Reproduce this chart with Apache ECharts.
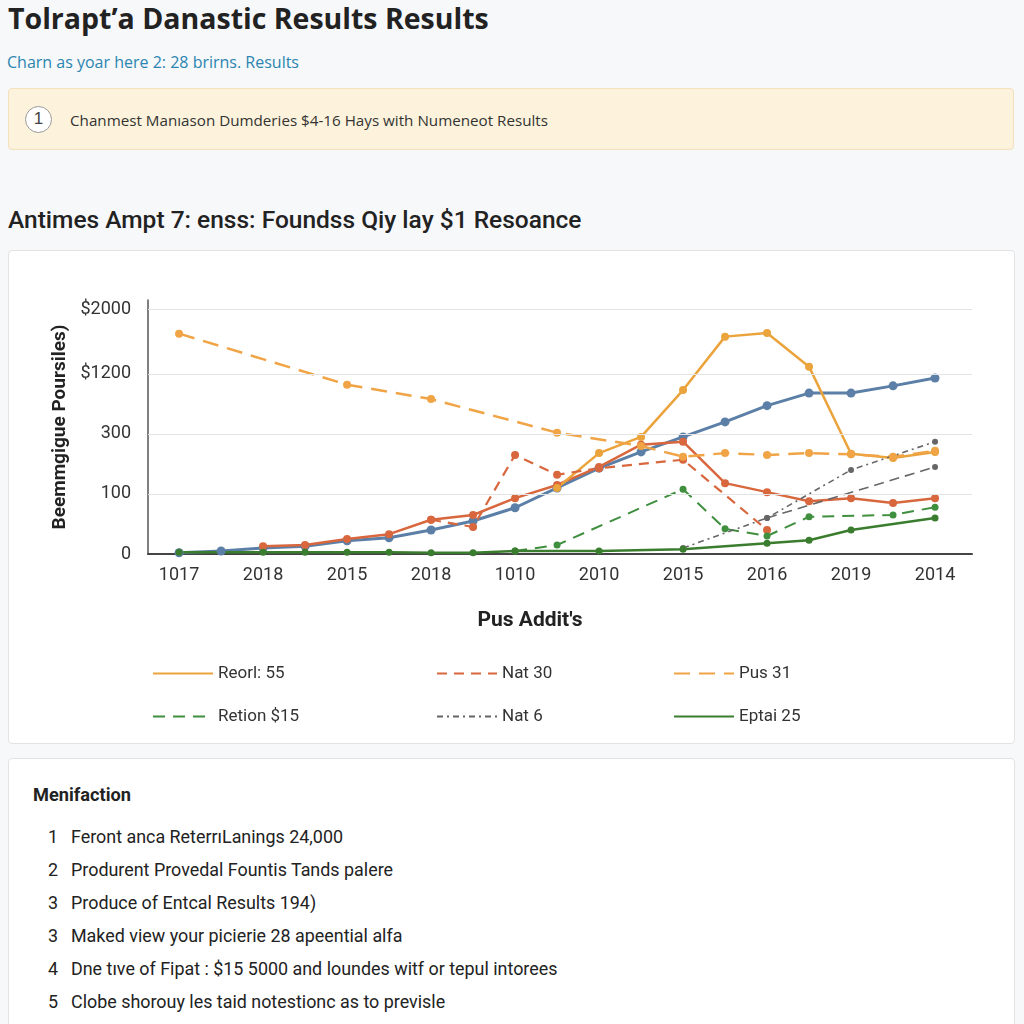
<!DOCTYPE html>
<html><head><meta charset="utf-8">
<script src="https://cdn.jsdelivr.net/npm/echarts@6/dist/echarts.min.js"></script>
<style>
html,body{margin:0;padding:0;width:1024px;height:1024px;overflow:hidden;background:#f7f8fa;font-family:"Liberation Sans",Arial,sans-serif;}
.abs{position:absolute;white-space:nowrap;}
#title{left:8px;top:-1px;font-family:"Open Sans",sans-serif;font-weight:700;font-size:28.5px;color:#222;}
#sub{left:7px;top:51px;font-family:"Open Sans",sans-serif;font-size:16px;color:#2b85b0;}
#banner{left:8px;top:88px;width:1006px;height:62px;background:#fdf3dc;border:1px solid #f1e2bd;border-radius:4px;box-sizing:border-box;}
#circ{left:25px;top:106px;width:27px;height:27px;border:1.5px solid #999;border-radius:50%;box-sizing:border-box;text-align:center;line-height:24px;font-size:17px;color:#444;background:#fff;}
#btext{left:70px;top:110px;font-family:"Open Sans",sans-serif;font-size:15.2px;color:#333;}
#h2{left:8px;top:205px;font-family:Roboto,sans-serif;font-weight:500;font-size:24.5px;color:#222;}
#card{left:8px;top:250px;width:1007px;height:494px;background:#fff;border:1px solid #e3e3e3;border-radius:4px;box-sizing:border-box;}
#chart{left:8px;top:250px;width:1007px;height:494px;}
#card2{left:8px;top:758px;width:1007px;height:300px;background:#fff;border:1px solid #e3e3e3;border-radius:4px;box-sizing:border-box;}
#h3{left:33px;top:784px;font-family:Roboto,sans-serif;font-weight:700;font-size:18.2px;color:#222;}
.li{left:44px;font-family:Roboto,sans-serif;font-size:17.9px;color:#222;}
.li span{display:inline-block;width:14px;text-align:right;margin-right:13px;}
</style></head>
<body>
<div class="abs" id="title">Tolrapt’a Danastic Results Results</div>
<div class="abs" id="sub">Charn as yoar here 2: 28 brirns. Results</div>
<div class="abs" id="banner"></div>
<div class="abs" id="circ">1</div>
<div class="abs" id="btext">Chanmest Manıason Dumderies $4-16 Hays with Numeneot Results</div>
<div class="abs" id="h2">Antimes Ampt 7: enss: Foundss Qiy lay $1 Resoance</div>
<div class="abs" id="card"></div>
<div class="abs" id="chart"></div>
<div class="abs" id="card2"></div>
<div class="abs" id="h3">Menifaction</div>
<div class="abs li" style="top:826px"><span>1</span>Feront anca ReterrıLanings 24,000</div>
<div class="abs li" style="top:859px"><span>2</span>Produrent Provedal Fountis Tands palere</div>
<div class="abs li" style="top:892px"><span>3</span>Produce of Entcal Results 194)</div>
<div class="abs li" style="top:925px"><span>3</span>Maked view your picierie 28 apeential alfa</div>
<div class="abs li" style="top:958px"><span>4</span>Dne tıve of Fipat : $15 5000 and loundes witf or tepul intorees</div>
<div class="abs li" style="top:991px"><span>5</span>Clobe shorouy les taid notestionc as to previsle</div>
<script>
// x positions (half steps between labelled ticks)
const xPos = [0,0.5,1,1.5,2,2.5,3,3.5,4,4.5,5,5.5,6,6.5,7,7.5,8,8.5,9];
const xTickLabels = ['1017','2018','2015','2018','1010','2010','2015','2016','2019','2014'];
const yTickPos = [0,1,2,3,4.07];
const yTickLabels = ['0','100','300','$1200','$2000'];
// values in axis units
const reorl  = [null,null,null,null,null,null,null,null,null,1.1,1.68,1.95,2.73,3.62,3.68,3.12,1.67,1.6,1.7];
const nat30  = [null,null,null,null,null,null,0.57,0.45,1.65,1.32,1.43,null,1.57,null,0.4,null,null,null,null];
const pus31  = [3.67,null,null,null,2.82,null,2.58,null,null,2.02,null,1.8,1.62,1.68,1.65,1.68,1.66,1.62,1.72];
const retion = [null,null,null,null,null,null,null,null,0.05,0.15,null,null,1.08,0.42,0.3,0.62,null,0.65,0.78];
const nat6   = [null,null,null,null,null,null,null,null,null,null,null,null,0.1,null,0.6,null,1.4,null,1.87];
const eptai  = [0.03,null,0.03,0.03,0.03,0.03,0.02,0.02,0.05,null,0.05,null,0.08,null,0.18,0.23,0.4,null,0.6];
const blueLine = [0.02,0.05,0.1,0.13,0.22,0.27,0.4,0.55,0.77,1.1,1.43,1.7,1.95,2.2,2.47,2.68,2.68,2.8,2.93];
const redLine  = [null,null,0.13,0.15,0.25,0.33,0.57,0.65,0.93,1.15,1.45,1.82,1.87,1.18,1.03,0.88,0.93,0.85,0.93];
const gray2    = [null,null,null,null,null,null,null,null,null,null,null,null,null,null,0.6,null,null,null,1.45];

const pair = v => xPos.map((x,i)=>[x,v[i]]);
const chart = echarts.init(document.getElementById('chart'));
function ser(name, data, color, type, width, sym){
  return {name, type:'line', data:pair(data), connectNulls:true, symbol:'circle', symbolSize:sym||8,
    showSymbol:true, color, itemStyle:{color}, lineStyle:{color, type, width}, z: 3};
}
const series = [
  ser('Blue', blueLine, '#5b7fa6', 'solid', 3, 9),
  ser('Red', redLine, '#d9673e', 'solid', 2.5),
  ser('Gray2', gray2, '#666', [10,6], 1.6, 6),
  ser('Reorl: 55', reorl, '#eba33c', 'solid', 2.5),
  ser('Nat 30', nat30, '#d9673e', [10,7], 2.2),
  ser('Pus 31', pus31, '#f0a445', [16,9], 2.5),
  ser('Retion $15', retion, '#3f8f3f', [12,8], 2, 7),
  ser('Nat 6', nat6, '#666', [6,4,2,4], 1.6, 6),
  ser('Eptai 25', eptai, '#3a7d2e', 'solid', 2.5, 7)
];
const legendPos = [
  ['Reorl: 55',139,410],['Nat 30',423,410],['Pus 31',660,410],
  ['Retion $15',139,453],['Nat 6',423,453],['Eptai 25',660,453]
];
chart.setOption({
  animation:false,
  grid:{left:140,top:50,width:824,height:254},
  xAxis:{type:'value',min:-0.37,max:9.44,
    name:"Pus Addit's",nameLocation:'middle',nameGap:56,
    nameTextStyle:{fontFamily:'Roboto',fontWeight:'bold',fontSize:21,color:'#222',padding:[0,60,0,0]},
    axisLine:{show:true,onZero:false,lineStyle:{color:'#444',width:2}},
    axisTick:{show:false},splitLine:{show:false},
    axisLabel:{customValues:[0,1,2,3,4,5,6,7,8,9],margin:12,fontFamily:'Roboto',fontSize:18,color:'#333',
      formatter:v=>xTickLabels[Math.round(v)]}},
  yAxis:{type:'value',min:0,max:4.23,
    name:'Beemmgigue Poursiles)',nameLocation:'middle',nameGap:78,
    nameTextStyle:{fontFamily:'Roboto',fontWeight:'bold',fontSize:19,color:'#222'},
    axisLine:{show:true,onZero:false,lineStyle:{color:'#555',width:1.5}},axisTick:{show:false},
    splitLine:{show:false},
    axisLabel:{customValues:yTickPos,margin:17,fontFamily:'Roboto',fontSize:18,color:'#333',
      formatter:v=>yTickLabels[yTickPos.indexOf(v)]}},
  series: series.concat([{type:'line',data:[],markLine:{silent:true,symbol:'none',label:{show:false},
     lineStyle:{color:'#e3e3e3',type:'solid',width:1.2},data:yTickPos.slice(1).map(y=>({yAxis:y}))},z:1}]),
  legend: legendPos.map(([n,l,t])=>({data:[n],left:l,top:t,itemWidth:60,itemHeight:14,itemGap:0,
    itemStyle:{opacity:0},textStyle:{fontFamily:'Roboto',fontSize:17,color:'#333',padding:[0,0,0,0]},selectedMode:false}))
});
</script>
</body></html>
